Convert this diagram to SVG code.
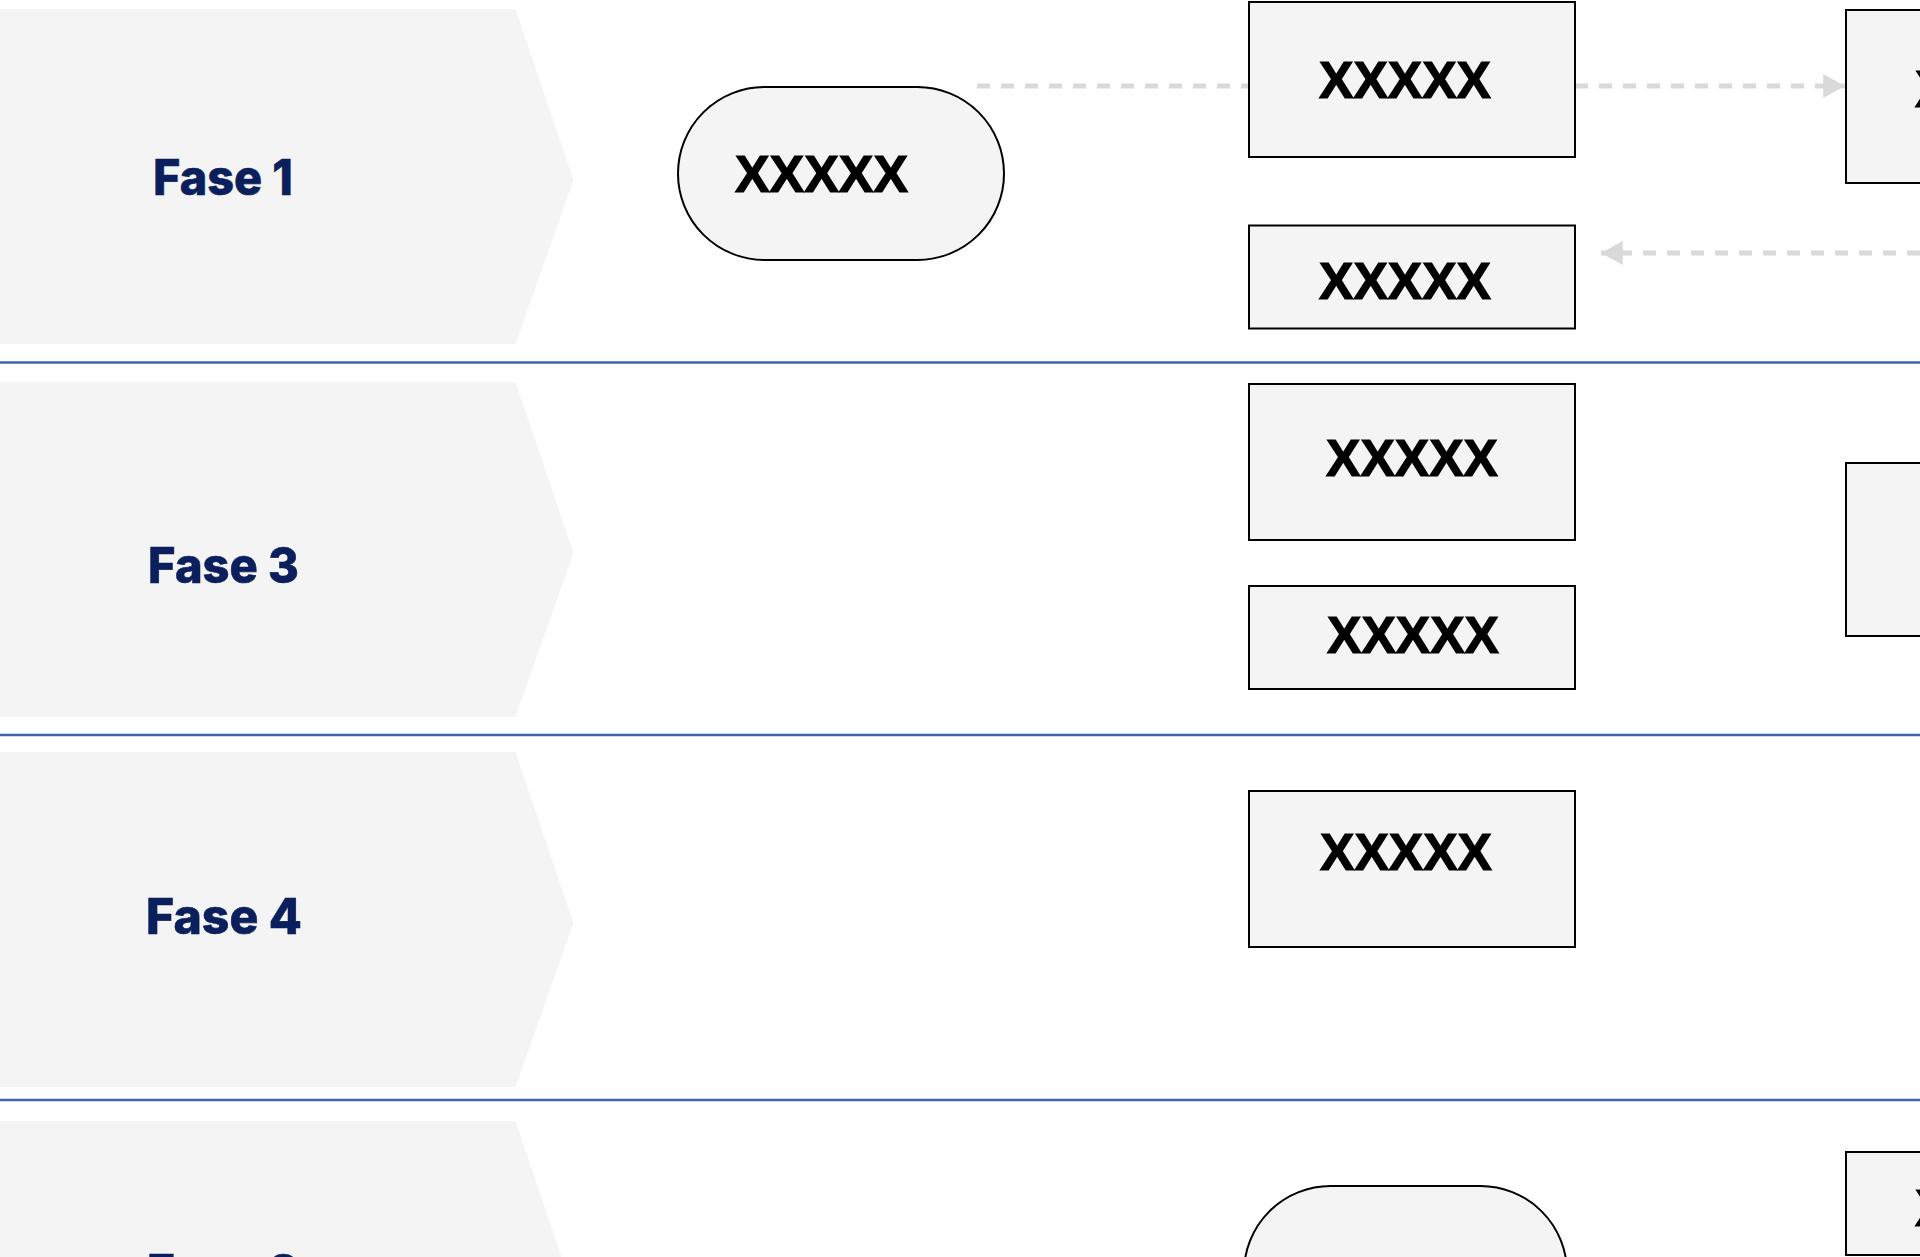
<svg xmlns="http://www.w3.org/2000/svg" width="1920" height="1257" viewBox="0 0 1920 1257">
<defs>
<style>
.phase{fill:#f4f4f4;stroke:none}
.sep{stroke:#3d64ad;stroke-width:2.5;fill:none}
.lbl{font-family:Inter,"Open Sans","Liberation Sans",sans-serif;font-weight:800;font-size:49px;fill:#0a1f5c;text-anchor:middle;stroke:#0a1f5c;stroke-width:0.6}
.box{fill:#f4f4f4;stroke:#000;stroke-width:2}
.t{font-family:"Liberation Sans",Arial,sans-serif;font-weight:700;font-size:51px;fill:#000;text-anchor:middle;stroke:#000;stroke-width:1.2}
.ts{font-family:"Liberation Sans",Arial,sans-serif;font-weight:700;font-size:51px;fill:#000;text-anchor:start;stroke:#000;stroke-width:1.2}
.dash{stroke:#d9d9d9;stroke-width:5;stroke-dasharray:13 11;fill:none}
</style>
<marker id="arr" markerUnits="userSpaceOnUse" markerWidth="22" markerHeight="24" viewBox="0 0 20 22" refX="20" refY="11" orient="auto">
<path d="M0,0 L20,11 L0,22 Z" fill="#d9d9d9"/>
</marker>
</defs>
<rect width="1920" height="1257" fill="#fff"/>

<g id="phase-1">
<polygon class="phase" points="0,9 515.5,9 573.5,180 515.5,344 0,344"/>
<text class="lbl" x="223" y="195" textLength="140" lengthAdjust="spacingAndGlyphs">Fase 1</text>
</g>
<g id="phase-3">
<polygon class="phase" points="0,382 515.5,382 573.5,553 515.5,717 0,717"/>
<text class="lbl" x="223.5" y="582.5" textLength="151" lengthAdjust="spacingAndGlyphs">Fase 3</text>
</g>
<g id="phase-4">
<polygon class="phase" points="0,752 515.5,752 573.5,923 515.5,1087 0,1087"/>
<text class="lbl" x="224" y="934" textLength="156" lengthAdjust="spacingAndGlyphs">Fase 4</text>
</g>
<g id="phase-2">
<polygon class="phase" points="0,1121 515.5,1121 573.5,1292 515.5,1456 0,1456"/>
<text class="lbl" x="223" y="1290" textLength="152" lengthAdjust="spacingAndGlyphs">Fase 2</text>
</g>

<g id="separators">
<line class="sep" x1="0" y1="362.5" x2="1920" y2="362.5"/>
<line class="sep" x1="0" y1="735" x2="1920" y2="735"/>
<line class="sep" x1="0" y1="1100" x2="1920" y2="1100"/>
</g>

<g id="connectors">
<line class="dash" x1="977" y1="86" x2="1249" y2="86"/>
<line class="dash" x1="1575" y1="86" x2="1845" y2="86" marker-end="url(#arr)"/>
<line class="dash" x1="1920" y1="253" x2="1601" y2="253" marker-end="url(#arr)"/>
</g>

<g id="node-start-1">
<rect class="box" x="678" y="87" width="326" height="173" rx="86.5" ry="86.5"/>
<text class="t" x="821.5" y="192" textLength="173" lengthAdjust="spacingAndGlyphs">XXXXX</text>
</g>
<g id="node-r1">
<rect class="box" x="1249" y="2" width="326" height="155"/>
<text class="t" x="1405" y="98" textLength="172" lengthAdjust="spacingAndGlyphs">XXXXX</text>
</g>
<g id="node-r2">
<rect class="box" x="1249" y="225.5" width="326" height="103"/>
<text class="t" x="1405" y="299" textLength="172" lengthAdjust="spacingAndGlyphs">XXXXX</text>
</g>
<g id="node-right-1">
<rect class="box" x="1846" y="10" width="200" height="173"/>
<text class="ts" x="1915" y="107">XXXXX</text>
</g>
<g id="node-r3">
<rect class="box" x="1249" y="384" width="326" height="156"/>
<text class="t" x="1412" y="476" textLength="172" lengthAdjust="spacingAndGlyphs">XXXXX</text>
</g>
<g id="node-r4">
<rect class="box" x="1249" y="586" width="326" height="103"/>
<text class="t" x="1413" y="653" textLength="172" lengthAdjust="spacingAndGlyphs">XXXXX</text>
</g>
<g id="node-right-2">
<rect class="box" x="1846" y="463" width="200" height="173"/>
</g>
<g id="node-r5">
<rect class="box" x="1249" y="791" width="326" height="156"/>
<text class="t" x="1406" y="870" textLength="172" lengthAdjust="spacingAndGlyphs">XXXXX</text>
</g>
<g id="node-start-2">
<rect class="box" x="1244" y="1186" width="323" height="173" rx="86.5" ry="86.5"/>
</g>
<g id="node-right-3">
<rect class="box" x="1846" y="1152" width="200" height="103"/>
<text class="ts" x="1915" y="1226">XXXXX</text>
</g>
</svg>
